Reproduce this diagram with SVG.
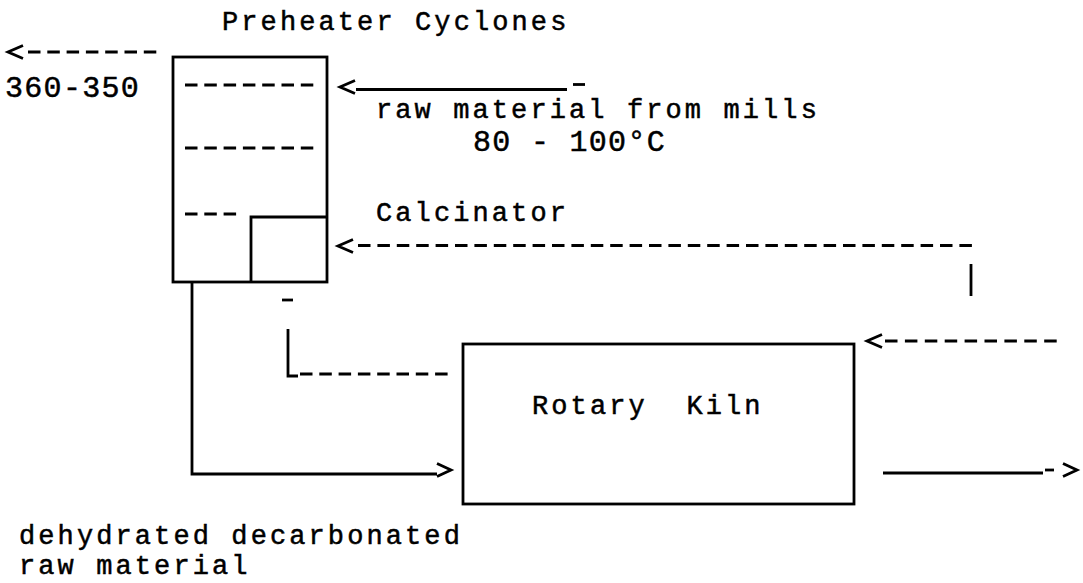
<svg xmlns="http://www.w3.org/2000/svg" xmlns:xlink="http://www.w3.org/1999/xlink" width="1083" height="583" viewBox="0 0 1083 583">
<style>
  .t { font-family: "Liberation Mono", "Courier New", monospace; font-size: 27px; letter-spacing: 3.1px; fill: #000; stroke: #000; stroke-width: 0.5px; }
  .d { font-family: "Liberation Mono", "Courier New", monospace; font-size: 30px; letter-spacing: 1.3px; fill: #000; stroke: #000; stroke-width: 0.5px; }
  .box { fill: none; stroke: #000; stroke-width: 2.8; }
  .ln { fill: none; stroke: #000; stroke-width: 2.8; }
  .dash { fill: none; stroke: #000; stroke-width: 3; stroke-dasharray: 12.5 6.8; }
  .chev { fill: none; stroke: #000; stroke-width: 2.8; stroke-linejoin: miter; }
</style>
<defs>
  <path id="chevL" class="chev" d="M15,-6.5 L0,0 L15,6.5"/>
  <path id="chevR" class="chev" d="M-14,-6.5 L0,0 L-14,6.5"/>
</defs>
<rect width="1083" height="583" fill="#fff"/>

<g id="title">
  <text class="t" x="222" y="30">Preheater Cyclones</text>
</g>

<g id="preheater">
  <rect class="box" x="173" y="57" width="154" height="225"/>
  <line class="dash" x1="185" y1="85" x2="314" y2="85"/>
  <line class="dash" x1="185" y1="148" x2="314" y2="148"/>
  <line class="dash" x1="185" y1="214" x2="237" y2="214"/>
</g>

<g id="calcinator">
  <polyline class="box" points="251,282 251,217 327,217"/>
  <text class="t" x="376" y="221">Calcinator</text>
</g>

<g id="kiln">
  <rect class="box" x="463" y="344" width="391" height="160"/>
  <text class="t" x="532" y="414" xml:space="preserve">Rotary  Kiln</text>
</g>

<g id="labels">
  <text class="d" x="5" y="97">360-350</text>
  <text class="t" x="376" y="118">raw material from mills</text>
  <text class="d" x="473" y="151">80 - 100°C</text>
  <text class="t" x="19" y="544">dehydrated decarbonated</text>
  <text class="t" x="19" y="574">raw material</text>
</g>

<g id="connectors">
  <use xlink:href="#chevL" x="8" y="52"/>
  <line class="dash" x1="28" y1="52" x2="158" y2="52"/>
  <use xlink:href="#chevL" x="340" y="87"/>
  <line class="ln" x1="356" y1="89.5" x2="567" y2="89.5"/>
  <line class="ln" x1="573" y1="84.5" x2="585" y2="84.5"/>
  <use xlink:href="#chevL" x="338" y="246"/>
  <line class="dash" x1="358" y1="245.5" x2="977" y2="245.5" style="stroke-dasharray:12.5 6.9"/>
  <line class="ln" x1="971" y1="264" x2="971" y2="296"/>
  <line class="ln" x1="282" y1="300" x2="293" y2="300"/>
  <polyline class="ln" points="288,329 288,376 298,376"/>
  <line class="dash" x1="300" y1="374" x2="450" y2="374"/>
  <use xlink:href="#chevL" x="867" y="341"/>
  <line class="dash" x1="885" y1="341" x2="1058" y2="341" style="stroke-dasharray:12.5 7.4"/>
  <polyline class="ln" points="192,282 192,474 437,474"/>
  <use xlink:href="#chevR" x="451" y="470"/>
  <line class="ln" x1="883" y1="473" x2="1043" y2="473"/>
  <line class="ln" x1="1045" y1="470" x2="1054" y2="470"/>
  <use xlink:href="#chevR" x="1077" y="470"/>
</g>
</svg>
